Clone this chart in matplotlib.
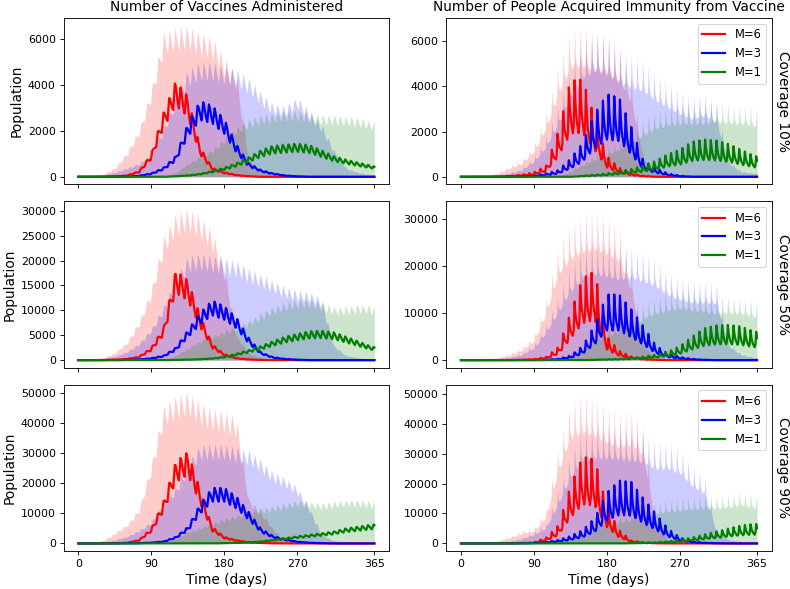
import matplotlib
matplotlib.use("Agg")
import matplotlib.pyplot as plt
import numpy as np

# knot days for the envelopes
DAYS = [0, 15, 30, 45, 60, 75, 90, 105, 120, 135, 150, 165, 180, 195,
        210, 225, 240, 255, 270, 285, 300, 315, 330, 345, 360, 365]

# weekly cycle (share of the weekly swing, by day of week)
week_smooth = [1.0, 0.85, 0.6, 0.35, 0.15, 0.0, 0.5]
week_spiky = [1.0, 0.6, 0.35, 0.2, 0.1, 0.0, 0.15]
week_band = [1.0, 0.3, 0.15, 0.05, 0.0, 0.05, 0.1]

labels = ["M=6", "M=3", "M=1"]
colors = ["red", "blue", "green"]
coverages = ["Coverage 10%", "Coverage 50%", "Coverage 90%"]
titles = ["Number of Vaccines Administered",
          "Number of People Acquired Immunity from Vaccine"]

# --- vaccines administered, coverage 10% (line = mean peak envelope, band = max envelope)
vac10_m6_line = [0,0,0,20,60,250,1000,2800,4150,3500,1300,400,200,80,30,0,0,0,0,0,0,0,0,0,0,0]
vac10_m3_line = [0,0,0,0,0,50,150,400,900,2300,3300,3100,2500,1400,600,300,150,60,20,0,0,0,0,0,0,0]
vac10_m1_line = [0,0,0,0,0,0,0,0,30,60,130,250,400,600,850,1150,1350,1400,1450,1380,1150,900,750,620,500,450]
vac10_m6_band = [0,50,100,400,1100,2100,3900,6300,6500,6600,6300,6100,5200,4500,800,300,100,0,0,0,0,0,0,0,0,0]
vac10_m3_band = [0,30,80,200,400,600,1000,2200,3500,4700,5000,5000,4800,4700,4300,3700,3200,3100,3500,2900,2300,1200,400,200,100,100]
vac10_m1_band = [0,0,0,0,0,0,0,0,200,600,900,1200,1700,2200,2500,2700,2800,2900,2900,2800,2700,2700,2650,2600,2450,2400]

# --- vaccines administered, coverage 50%
vac50_m6_line = [0,0,0,100,250,700,2500,6500,18000,16000,9000,3200,1200,400,150,50,0,0,0,0,0,0,0,0,0,0]
vac50_m3_line = [0,0,0,0,50,150,400,900,2500,6000,9500,12000,10800,8500,4500,1600,600,250,100,0,0,0,0,0,0,0]
vac50_m1_line = [0,0,0,0,0,0,0,0,50,100,200,350,700,1300,2000,2800,3800,4700,5300,5800,5900,5600,4700,3800,2800,2600]
vac50_m6_band = [0,200,500,1500,3700,8000,14500,25000,29500,30500,29000,26000,19000,5000,1500,600,200,0,0,0,0,0,0,0,0,0]
vac50_m3_band = [0,100,300,800,1800,3500,6500,11000,16500,21000,21500,21000,20500,20000,18500,17300,16000,14800,14000,13700,12500,3000,1000,500,300,300]
vac50_m1_band = [0,0,0,0,0,0,0,0,1000,2500,4000,5000,6000,7000,8000,9500,10800,11800,12300,12500,11500,10800,10800,11200,11000,10500]

# --- vaccines administered, coverage 90%
vac90_m6_line = [0,0,0,50,250,1200,5000,14000,27000,30500,18000,5500,2200,1100,450,150,50,0,0,0,0,0,0,0,0,0]
vac90_m3_line = [0,0,0,0,30,100,300,700,2200,5500,13000,18500,18500,15500,10500,5000,2500,1400,600,250,100,0,0,0,0,0]
vac90_m1_line = [0,0,0,0,0,0,0,0,0,0,0,0,100,200,350,700,1200,1800,2400,2900,3400,4000,5000,5600,6200,6300]
vac90_m6_band = [0,300,1000,3500,6500,12000,27000,46000,49000,50500,47000,45000,44000,42000,15000,11000,5000,1000,300,0,0,0,0,0,0,0]
vac90_m3_band = [0,200,500,1200,2500,4500,7500,14000,19000,27000,33000,33000,33000,32000,31000,28000,24000,22000,19000,12000,3000,1000,500,300,200,200]
vac90_m1_band = [0,0,0,0,0,0,0,0,1500,4000,5500,7000,8500,9500,11000,12000,12500,13500,14500,14000,13500,14000,14500,14500,14000,13800]

# --- immunity acquired, coverage 10%
imm10_m6_line = [0,0,0,0,50,100,200,500,2000,4250,4300,2600,900,400,150,50,0,0,0,0,0,0,0,0,0,0]
imm10_m3_line = [0,0,0,0,0,0,50,150,300,800,1500,2800,3650,3500,2200,700,400,150,50,0,0,0,0,0,0,0]
imm10_m1_line = [0,0,0,0,0,0,0,0,0,0,50,100,150,250,350,500,700,1000,1200,1550,1650,1600,1450,1200,950,900]
imm10_m6_band = [0,0,50,200,500,800,1500,2900,5000,6600,6700,6500,6350,5800,4500,1000,300,100,0,0,0,0,0,0,0,0]
imm10_m3_band = [0,0,50,100,200,400,900,1800,3200,4800,6000,6400,6200,5700,5400,5200,4600,4200,3800,3500,3700,3300,800,300,200,200]
imm10_m1_band = [0,0,0,0,0,0,0,0,0,300,700,1000,1300,1600,2000,2500,2900,3100,3200,3200,3200,3300,3250,3200,3100,3000]

# --- immunity acquired, coverage 50%
imm50_m6_line = [0,0,0,0,0,100,250,700,2800,10000,17500,19000,5000,2000,800,300,100,0,0,0,0,0,0,0,0,0]
imm50_m3_line = [0,0,0,0,0,0,0,100,300,1000,3000,7500,14000,14000,10800,7200,3200,1400,700,300,100,0,0,0,0,0]
imm50_m1_line = [0,0,0,0,0,0,0,0,0,0,0,100,200,300,500,800,1200,1800,3000,5000,6800,7400,7500,7200,6200,6000]
imm50_m6_band = [0,0,200,600,1500,2800,5500,13500,25000,29500,31500,32500,31000,29000,20000,4000,1000,300,0,0,0,0,0,0,0,0]
imm50_m3_band = [0,0,100,300,700,1500,3500,8000,14000,20000,24000,25000,24500,23500,24000,23000,21500,19000,17500,16800,16800,16500,4000,1500,800,700]
imm50_m1_band = [0,0,0,0,0,0,0,0,0,1500,3500,5500,7000,8000,9500,12000,13500,14500,15000,14500,14000,13500,13800,13500,12800,12500]

# --- immunity acquired, coverage 90%
imm90_m6_line = [0,0,0,0,50,200,400,2000,6000,19000,29000,28000,12000,4500,1000,400,100,0,0,0,0,0,0,0,0,0]
imm90_m3_line = [0,0,0,0,0,0,200,500,1200,2500,4500,8500,17000,21000,20500,15000,10000,5000,2000,700,300,100,0,0,0,0]
imm90_m1_line = [0,0,0,0,0,0,0,0,0,0,0,0,0,0,100,200,400,700,1200,2000,3000,4000,5000,6000,6500,6500]
imm90_m6_band = [0,0,300,1000,2500,4500,5500,12000,33000,48000,51000,49000,46000,44000,45000,40000,8000,2000,500,0,0,0,0,0,0,0]
imm90_m3_band = [0,0,200,500,1000,2000,4000,7000,18000,30000,38000,39000,39000,38500,38000,37000,34000,34000,32000,26000,23000,5000,1500,800,500,500]
imm90_m1_band = [0,0,0,0,0,0,0,0,0,2000,5000,7000,8500,9500,10500,12000,13500,14500,15000,15500,16000,16000,16500,17500,16500,16000]

panels = [
    [([vac10_m6_line, vac10_m3_line, vac10_m1_line], [vac10_m6_band, vac10_m3_band, vac10_m1_band]),
     ([imm10_m6_line, imm10_m3_line, imm10_m1_line], [imm10_m6_band, imm10_m3_band, imm10_m1_band])],
    [([vac50_m6_line, vac50_m3_line, vac50_m1_line], [vac50_m6_band, vac50_m3_band, vac50_m1_band]),
     ([imm50_m6_line, imm50_m3_line, imm50_m1_line], [imm50_m6_band, imm50_m3_band, imm50_m1_band])],
    [([vac90_m6_line, vac90_m3_line, vac90_m1_line], [vac90_m6_band, vac90_m3_band, vac90_m1_band]),
     ([imm90_m6_line, imm90_m3_line, imm90_m1_line], [imm90_m6_band, imm90_m3_band, imm90_m1_band])],
]

days = np.arange(0, 366)


def weekly(knots, pattern, low):
    # envelope across the year, swinging down by the weekly cycle
    env = np.interp(days, DAYS, knots)
    w = np.array(pattern)[days % 7]
    return env * (low + (1 - low) * w)


fig, axes = plt.subplots(3, 2, figsize=(10, 589 / 79), dpi=79, sharex=True)
fig.subplots_adjust(left=0.0804, right=0.977, top=0.9694, bottom=0.0645,
                    hspace=0.102, wspace=0.175)

for r in range(3):
    for c in range(2):
        ax = axes[r, c]
        lines, bands = panels[r][c]
        if c == 0:
            pat, bpat, line_low, band_low = week_smooth, week_smooth, 0.75, 0.84
        else:
            pat, bpat, line_low, band_low = week_spiky, week_band, 0.45, 0.72
        for band, col in zip(bands, colors):
            ax.fill_between(days, 0, weekly(band, bpat, band_low),
                            color=col, alpha=0.2, linewidth=0)
        for line, col, lab in zip(lines, colors, labels):
            ax.plot(days, weekly(line, pat, line_low), color=col, label=lab, linewidth=2)
        ax.set_xticks([0, 90, 180, 270, 365])
        ax.tick_params(labelsize=10)
        if c == 0:
            ax.set_ylabel("Population", fontsize=12.5)
        else:
            ax.legend(loc="upper right", fontsize=10.5)
            ax.text(1.012, 0.5, coverages[r], rotation=270, transform=ax.transAxes,
                    va="center", ha="left", fontsize=12.5)
        if r == 0:
            ax.set_title(titles[c], fontsize=12.5)
        if r == 2:
            ax.set_xlabel("Time (days)", fontsize=12.5)

plt.savefig("out.png", dpi=79)
